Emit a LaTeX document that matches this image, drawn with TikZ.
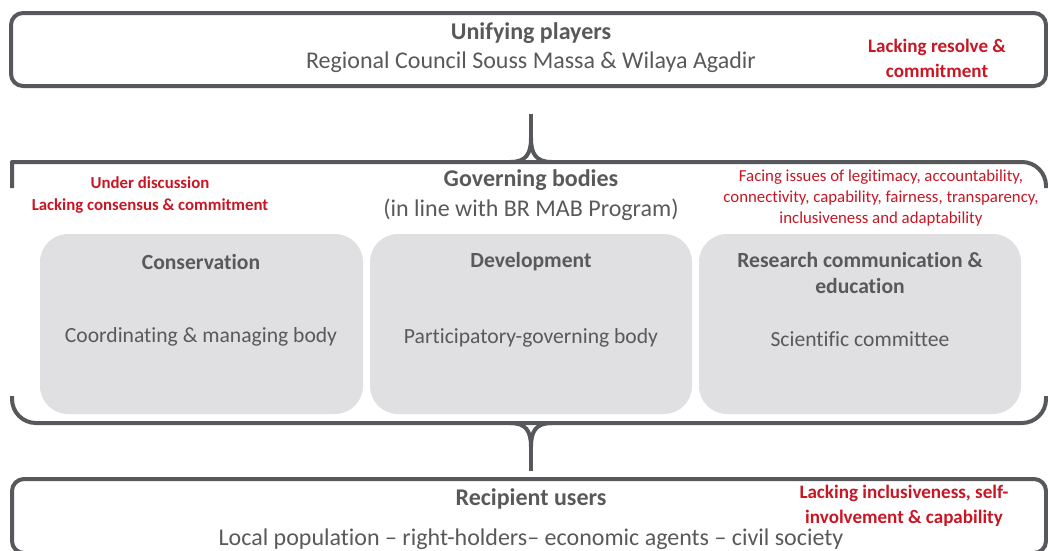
\documentclass[tikz,border=0pt]{standalone}
\usepackage{fontspec}
\setmainfont{Carlito}[Ligatures={NoCommon}]
\definecolor{lineGray}{RGB}{86,88,91}
\definecolor{txtGray}{RGB}{89,89,89}
\definecolor{boxGray}{RGB}{224,224,226}
\definecolor{redTxt}{RGB}{200,22,36}
\tikzset{
  frame/.style={draw=lineGray, line width=3pt},
  graybox/.style={fill=boxGray, rounded corners=21pt},
  ttl/.style={text=txtGray, font=\bfseries\fontsize{18}{21}\selectfont, inner sep=0pt},
  sub/.style={text=txtGray, font=\fontsize{18}{21}\selectfont, inner sep=0pt},
  btl/.style={text=txtGray, font=\bfseries\fontsize{16.2}{19.5}\selectfont, inner sep=0pt, align=center},
  bsub/.style={text=txtGray, font=\fontsize{16.2}{19}\selectfont, inner sep=0pt},
  redbig/.style={text=redTxt, font=\bfseries\fontsize{14.3}{18.75}\selectfont, inner sep=0pt, align=center},
  redsmall/.style={text=redTxt, font=\bfseries\fontsize{12.6}{16.5}\selectfont, inner sep=0pt, align=center},
  redreg/.style={text=redTxt, font=\fontsize{12.6}{16}\selectfont, inner sep=0pt, align=center},
}
\begin{document}
\begin{tikzpicture}[x=0.75pt, y=-0.75pt]
\useasboundingbox (0,0) rectangle (1048,550);
% top box
\draw[frame, rounded corners=9pt] (11,13) rectangle (1046,86);
\node[ttl] (up) at (531,33) {Unifying players};
\node[sub] (rc) at (531,62) {Regional Council Souss Massa \& Wilaya Agadir};
\node[redbig] (lr) at (937,58) {Lacking resolve \&\\commitment};
% top brace
\coordinate (tb) at (531,114);
\draw[frame, line join=round] (12,188) -- (12,162) [rounded corners=18pt] -- (1046,162) -- (1046,188);
\draw[frame, line join=round] (510,162) .. controls (526,162) and (531,154) .. (531,138) .. controls (531,154) and (536,162) .. (552,162);
\draw[frame] (531,139) -- (tb);
% governing bodies
\node[ttl] (gb) at (531,180) {Governing bodies};
\node[sub] (ib) at (531,210) {(in line with BR MAB Program)};
\node[redsmall] (ud) at (150,195.5) {Under discussion\\Lacking consensus \& commitment};
\node[redreg] (fi) at (881,198) {Facing issues of legitimacy, accountability,\\connectivity, capability, fairness, transparency,\\inclusiveness and adaptability};
% gray boxes
\fill[graybox] (40,234) rectangle (363,414);
\fill[graybox] (370,234) rectangle (692,414);
\fill[graybox] (699,234) rectangle (1021,414);
\node[btl] (cons) at (201,262) {Conservation};
\node[bsub] (cmb) at (201,337) {Coordinating \& managing body};
\node[btl] (dev) at (531,262) {Development};
\node[bsub] (pgb) at (531,338) {Participatory-governing body};
\node[btl] (rce) at (860,273) {Research communication \&\\education};
\node[bsub] (sc) at (860,339) {Scientific committee};
% bottom brace
\coordinate (bb) at (531,471);
\draw[frame, line join=round] (12,396) [rounded corners=18pt] -- (12,423) -- (1046,423) [sharp corners] -- (1046,396);
\draw[frame, line join=round] (510,423) .. controls (526,423) and (531,431) .. (531,447) .. controls (531,431) and (536,423) .. (552,423);
\draw[frame] (531,446) -- (bb);
% bottom box
\draw[frame, rounded corners=9pt] (12,479) rectangle (1046,553);
\node[ttl] (ru) at (531,499) {Recipient users};
\node[redbig] (li) at (904,505.5) {Lacking inclusiveness, self-\\involvement \& capability};
\node[sub] (lp) at (531,539) {Local population -- right-holders-- economic agents -- civil society};
\end{tikzpicture}
\end{document}
